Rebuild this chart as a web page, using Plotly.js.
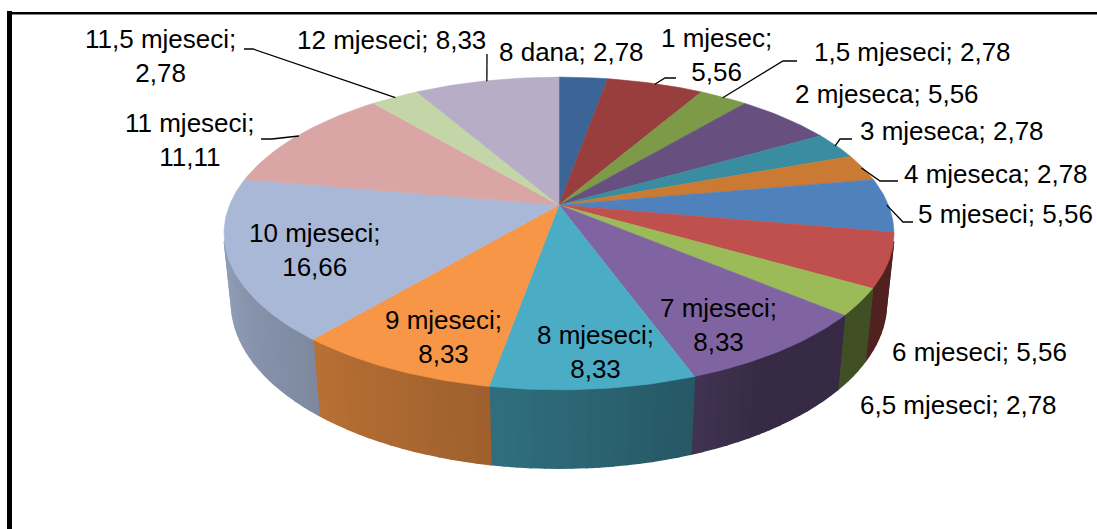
<!DOCTYPE html>
<html><head><meta charset="utf-8">
<script src="https://cdn.plot.ly/plotly-3.0.1.min.js"></script>
<style>html,body{margin:0;padding:0;background:#fff;} #chart{width:1097px;height:529px;}</style>
</head><body><div id="chart"></div>
<script>
// ---- data ----
const categories = ["8 dana","1 mjesec","1,5 mjeseci","2 mjeseca","3 mjeseca","4 mjeseca","5 mjeseci","6 mjeseci","6,5 mjeseci","7 mjeseci","8 mjeseci","9 mjeseci","10 mjeseci","11 mjeseci","11,5 mjeseci","12 mjeseci"];
const values = [2.78,5.56,2.78,5.56,2.78,2.78,5.56,5.56,2.78,8.33,8.33,8.33,16.66,11.11,2.78,8.33];
const colors = ["#3C6597","#983F3D","#7C9A47","#67507F","#3A8DA0","#CB7A34","#4F81BD","#C0504D","#9BBB59","#8064A2","#4BACC6","#F79646","#A9B8D6","#D9A6A5","#C4D5A8","#B7ADC7"];

// ---- layout / style (positions kept apart from data) ----
const FONT = {family:"Liberation Sans, Arial, sans-serif", size:26, color:"#000"};
const G = {cx:559, cy:205, F:1606, L:4.876, sinE:0.459, h:0.2387};
G.cosE = Math.sqrt(1 - G.sinE*G.sinE);
const labelCfg = [
  {x:497, y:52, xa:"left", br:false},
  {x:716, y:55, xa:"center", br:true, leader:[[665,78],[676,78]]},
  {x:812, y:52, xa:"left", br:false, leader:[[783,61],[797,61]]},
  {x:793, y:94, xa:"left", br:false},
  {x:858, y:131, xa:"left", br:false, leader:[[840,139],[852,139]]},
  {x:902, y:174, xa:"left", br:false, leader:[[880,181],[898,181]]},
  {x:916, y:214, xa:"left", br:false, leader:[[903,222],[913,222]]},
  {x:890, y:352, xa:"left", br:false},
  {x:858, y:405, xa:"left", br:false},
  {inside:true, r:0.75, d:[0,15]},
  {inside:true, r:0.75, d:[12,16]},
  {inside:true, r:0.75, d:[4,15]},
  {inside:true, r:0.75, d:[0,4]},
  {x:190, y:140, xa:"center", br:true, leader:[[272,139],[261,139]]},
  {x:160, y:56, xa:"center", br:true, leader:[[253,49],[244,49]]},
  {x:391, y:40, xa:"center", br:false, leader:[[487,54]]}
];

function proj(X, Y, Z){
  const d = G.L + Y*G.cosE - Z*G.sinE;
  return [G.cx + G.F*X/d, G.cy - G.F*(Y*G.sinE + Z*G.cosE)/d];
}
function rim(phiDeg, r, Z){
  const p = phiDeg*Math.PI/180;
  return proj(r*Math.sin(p), r*Math.cos(p), Z);
}
function hexToRgb(h){ h=h.replace('#',''); return [0,2,4].map(i=>parseInt(h.substr(i,2),16)); }
function shade(hex, f){ const c=hexToRgb(hex).map(v=>Math.round(v*f)); return `rgb(${c[0]},${c[1]},${c[2]})`; }
function fmt(v){ return v.toFixed(2).replace('.', ','); }

const total = values.reduce((a,b)=>a+b,0);
const starts = []; let acc = 0;
values.forEach(v=>{ starts.push(acc/total*360); acc += v; });
const ends = values.map((v,i)=>starts[i] + v/total*360);

const traces = [];
const vis0 = Math.acos(-1/(G.L*G.cosE))*180/Math.PI, vis1 = 360 - vis0;
function sideFactor(phi){
  let t = (phi - 150)/105; t = Math.max(0, Math.min(1, t));
  return 0.42 + 0.43*Math.pow(t, 0.7);
}
values.forEach((v,i)=>{
  const a0 = Math.max(starts[i], vis0), a1 = Math.min(ends[i], vis1);
  if (a1 <= a0) return;
  const n = Math.max(1, Math.ceil((a1-a0)/2));
  for (let k=0;k<n;k++){
    const p0 = a0 + (a1-a0)*k/n, p1 = a0 + (a1-a0)*(k+1)/n;
    const xs=[], ys=[];
    const m = 4;
    for (let j=0;j<=m;j++){ const q=rim(p0+(p1-p0)*j/m,1,0); xs.push(q[0]); ys.push(q[1]); }
    for (let j=m;j>=0;j--){ const q=rim(p0+(p1-p0)*j/m,1,-G.h); xs.push(q[0]); ys.push(q[1]); }
    xs.push(xs[0]); ys.push(ys[0]);
    const col = shade(colors[i], sideFactor((p0+p1)/2));
    traces.push({type:"scatter", mode:"lines", x:xs, y:ys, fill:"toself", fillcolor:col,
      line:{color:col, width:1.8}, hoverinfo:"skip", showlegend:false});
  }
});
values.forEach((v,i)=>{
  const c = proj(0,0,0);
  const xs=[c[0]], ys=[c[1]];
  const n = Math.max(2, Math.ceil((ends[i]-starts[i])/1));
  for (let j=0;j<=n;j++){ const q = rim(starts[i] + (ends[i]-starts[i])*j/n, 1, 0); xs.push(q[0]); ys.push(q[1]); }
  xs.push(c[0]); ys.push(c[1]);
  traces.push({type:"scatter", mode:"lines", x:xs, y:ys, fill:"toself", fillcolor:colors[i],
    line:{color:colors[i], width:0.6}, hoverinfo:"skip", showlegend:false, name:categories[i]});
});
const annotations = [];
values.forEach((v,i)=>{
  const cfg = labelCfg[i];
  const mid = (starts[i]+ends[i])/2;
  if (cfg.inside){
    const p = rim(mid, cfg.r, 0);
    annotations.push({x:p[0]+cfg.d[0], y:p[1]+cfg.d[1], xref:"x", yref:"y", showarrow:false,
      text: categories[i] + ";<br>" + fmt(v), font:FONT, xanchor:"center", yanchor:"middle", align:"center"});
  } else {
    annotations.push({x:cfg.x, y:cfg.y, xref:"x", yref:"y", showarrow:false,
      text: categories[i] + ";" + (cfg.br ? "<br>" : " ") + fmt(v), font:FONT,
      xanchor:cfg.xa, yanchor:"middle", align:"center"});
    if (cfg.leader){
      const s = rim(mid, 0.995, 0);
      const xs=[s[0]], ys=[s[1]];
      cfg.leader.forEach(p=>{ xs.push(p[0]); ys.push(p[1]); });
      traces.push({type:"scatter", mode:"lines", x:xs, y:ys, line:{color:"#000", width:1.3},
        hoverinfo:"skip", showlegend:false});
    }
  }
});

const layout = {
  width:1097, height:529, margin:{l:0,r:0,t:0,b:0},
  paper_bgcolor:"#fff", plot_bgcolor:"#fff", showlegend:false,
  xaxis:{range:[0,1097], visible:false, fixedrange:true},
  yaxis:{range:[529,0], visible:false, fixedrange:true},
  annotations: annotations,
  shapes:[
    {type:"line", xref:"x", yref:"y", x0:9.5, x1:9.5, y0:11, y1:529, line:{color:"#000", width:5}},
    {type:"line", xref:"x", yref:"y", x0:7, x1:1097, y0:13.2, y1:13.2, line:{color:"#000", width:2.6}}
  ]
};
Plotly.newPlot("chart", traces, layout, {displayModeBar:false, staticPlot:true});
</script></body></html>
